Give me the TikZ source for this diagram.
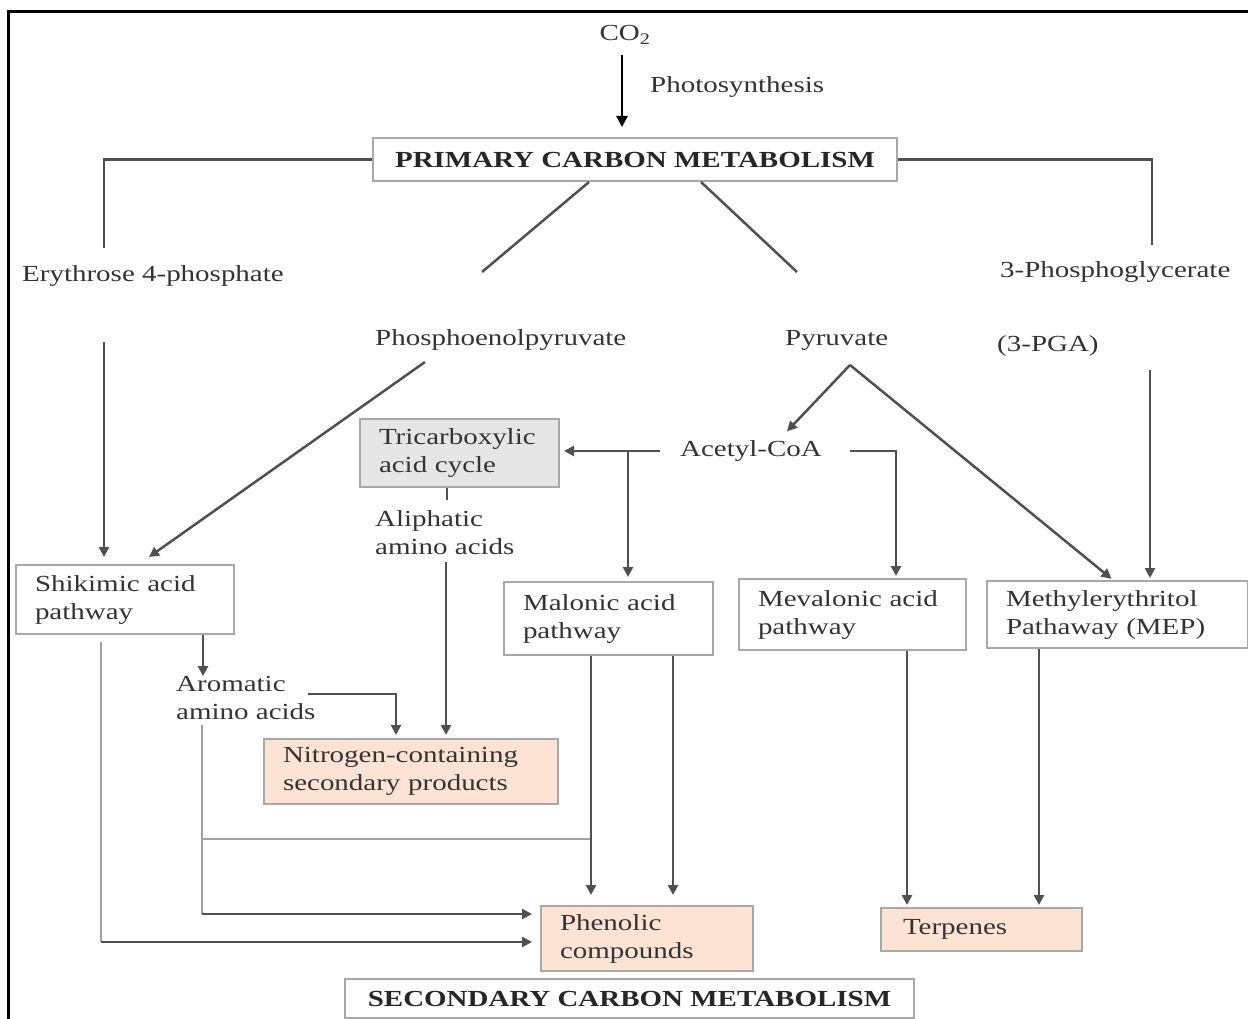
\documentclass[tikz,border=0pt]{standalone}
\usepackage{fontspec}
\setmainfont{Liberation Serif}[FakeStretch=1.26]
\usetikzlibrary{arrows.meta}
\definecolor{txt}{HTML}{333333}
\definecolor{ln}{HTML}{505050}
\definecolor{lnl}{HTML}{A0A0A0}
\definecolor{bx}{HTML}{A8A8A8}
\definecolor{tcafill}{HTML}{E6E6E6}
\definecolor{peach}{HTML}{FDE3D3}
\begin{document}
\begin{tikzpicture}[x=1pt,y=-1pt,
  font=\fontsize{23}{28}\selectfont, text=txt,
  lbl/.style={inner sep=0pt, anchor=west, align=left},
  boxn/.style={draw=bx, line width=2pt, anchor=north west, align=left, inner xsep=19pt, inner ysep=0pt},
  titlebox/.style={draw=bx, line width=2pt, anchor=north west, inner sep=0pt, font=\fontsize{23}{28}\selectfont\bfseries, text=black!85},
  conn/.style={draw=ln, line width=2.5pt},
  connl/.style={draw=lnl, line width=2pt},
  arr/.style={conn, -{Triangle[length=10pt,width=10pt]}},
  arrk/.style={draw=black, line width=2.5pt, -{Triangle[length=11pt,width=11pt]}}
]
\useasboundingbox (0,0) rectangle (1248,1019);
% frame
\draw[line width=3pt] (8,1019) -- (8,12) -- (1248,12);

% text labels
\node[lbl, anchor=center] (co2) at (625,35) {CO\textsubscript{2}};
\node[lbl] (photo) at (650,87) {Photosynthesis};
\node[titlebox, minimum width=524pt, minimum height=43pt] (primary) at (372,137) {PRIMARY CARBON METABOLISM};
\node[lbl] (ery) at (22,276) {Erythrose 4-phosphate};
\node[lbl] (pep) at (375,340) {Phosphoenolpyruvate};
\node[lbl] (pyr) at (785,340) {Pyruvate};
\node[lbl] (pga) at (1000,272) {3-Phosphoglycerate};
\node[lbl] (pgaab) at (997,346) {(3-PGA)};
\node[lbl] (acetyl) at (680,451) {Acetyl-CoA};
\node[lbl] (aliph) at (375,533) {Aliphatic\\amino acids};
\node[lbl] (arom) at (176,698) {Aromatic\\amino acids};

% boxes
\node[boxn, fill=tcafill, text width=161pt, minimum height=68pt] (tca) at (359,418) {Tricarboxylic\\acid cycle};
\node[boxn, text width=180pt, minimum height=69pt] (shik) at (15,564) {Shikimic acid\\pathway};
\node[boxn, text width=171pt, minimum height=73pt] (malonic) at (503,581) {Malonic acid\\pathway};
\node[boxn, text width=189pt, minimum height=71pt] (meval) at (738,578) {Mevalonic acid\\pathway};
\node[boxn, text width=223pt, minimum height=67pt] (mep) at (986,580) {Methylerythritol\\Pathaway (MEP)};
\node[boxn, fill=peach, text width=256pt, minimum height=65pt] (nitro) at (263,738) {Nitrogen-containing\\secondary products};
\node[boxn, fill=peach, text width=174pt, minimum height=65pt] (phen) at (540,905) {Phenolic\\compounds};
\node[boxn, fill=peach, inner xsep=22pt, text width=157pt, minimum height=43pt] (terp) at (880,907) {Terpenes};
\node[titlebox, minimum width=569pt, minimum height=39pt] (secondary) at (344,978) {SECONDARY CARBON METABOLISM};

% connectors
\coordinate (co2a) at ([xshift=-3pt]co2.south);
\draw[arrk, shorten <=10pt, shorten >=10pt] (co2a) -- (co2a |- primary.north);

\coordinate (eryTop) at (104,248);
\coordinate (pgaTop) at (1152,245);
\draw[conn] (primary.west) -| (eryTop);
\draw[conn] (primary.east) -| (pgaTop);
\coordinate (pepTop) at (482,272);
\coordinate (pyrTop) at (797,272);
\draw[conn] ([xshift=-46pt]primary.south) -- (pepTop);
\draw[conn] ([xshift=66pt]primary.south) -- (pyrTop);

\coordinate (eryBot) at (104,342);
\draw[arr, shorten >=7pt] (eryBot) -- (eryBot |- shik.north);
\coordinate (pepBot) at (425,362);
\draw[arr] (pepBot) -- ([xshift=24pt, yshift=7pt]shik.north);

\coordinate (pgaBot) at (1150,370);
\draw[arr, shorten >=2pt] (pgaBot) -- (pgaBot |- mep.north);
\coordinate (pyrApex) at (850,365);
\draw[arr] (pyrApex) -- ([xshift=36pt,yshift=9pt]acetyl.north);
\draw[arr, shorten >=2pt] (pyrApex) -- ([xshift=-4.5pt]mep.north);

\draw[arr, shorten >=4pt] ([xshift=-20pt]acetyl.west) -- (acetyl.west -| tca.east);
\coordinate (acBr) at (628,451);
\draw[arr, shorten >=4pt] (acBr) -- (acBr |- malonic.north);
\draw[arr, shorten >=2pt] ([xshift=28pt]acetyl.east) -| ([xshift=43.5pt]meval.north);

\draw[conn] ([xshift=-12.5pt]tca.south) -- ++(0,12);
\coordinate (aliphBot) at (446,562);
\draw[arr, shorten >=3pt] (aliphBot) -- (aliphBot |- nitro.north);

\coordinate (shA) at ([xshift=78pt]shik.south);
\draw[arr] (shA) -- (shA |- arom.north);
\coordinate (aromR) at (308,694);
\draw[arr, shorten >=3pt] (aromR) -| ([xshift=-15pt]nitro.north);

\coordinate (aromB) at (202,725);
\coordinate (aromC) at (202,914);
\draw[connl] (aromB) -- (aromC);
\draw[arr, shorten >=8pt] (aromC) -- (aromC -| phen.west);
\coordinate (hL) at (202,839);
\coordinate (hR) at (590,839);
\draw[connl] (hL) -- (hR);

\coordinate (shikC) at (101,942);
\coordinate (shB) at (shikC |- shik.south);
\draw[connl, shorten <=7pt] (shB) -- (shikC);
\draw[arr, shorten >=8pt] (shikC) -- (shikC -| phen.west);

\coordinate (m1) at ([xshift=-17.5pt]malonic.south);
\coordinate (m2) at ([xshift=64.5pt]malonic.south);
\draw[arr, shorten >=10pt] (m1) -- (m1 |- phen.north);
\draw[arr, shorten >=10pt] (m2) -- (m2 |- phen.north);
\coordinate (v1) at ([xshift=54.5pt]meval.south);
\coordinate (p1) at ([xshift=-78.5pt]mep.south);
\draw[arr, shorten >=2pt] (v1) -- (v1 |- terp.north);
\draw[arr, shorten >=2pt] (p1) -- (p1 |- terp.north);
\end{tikzpicture}
\end{document}
